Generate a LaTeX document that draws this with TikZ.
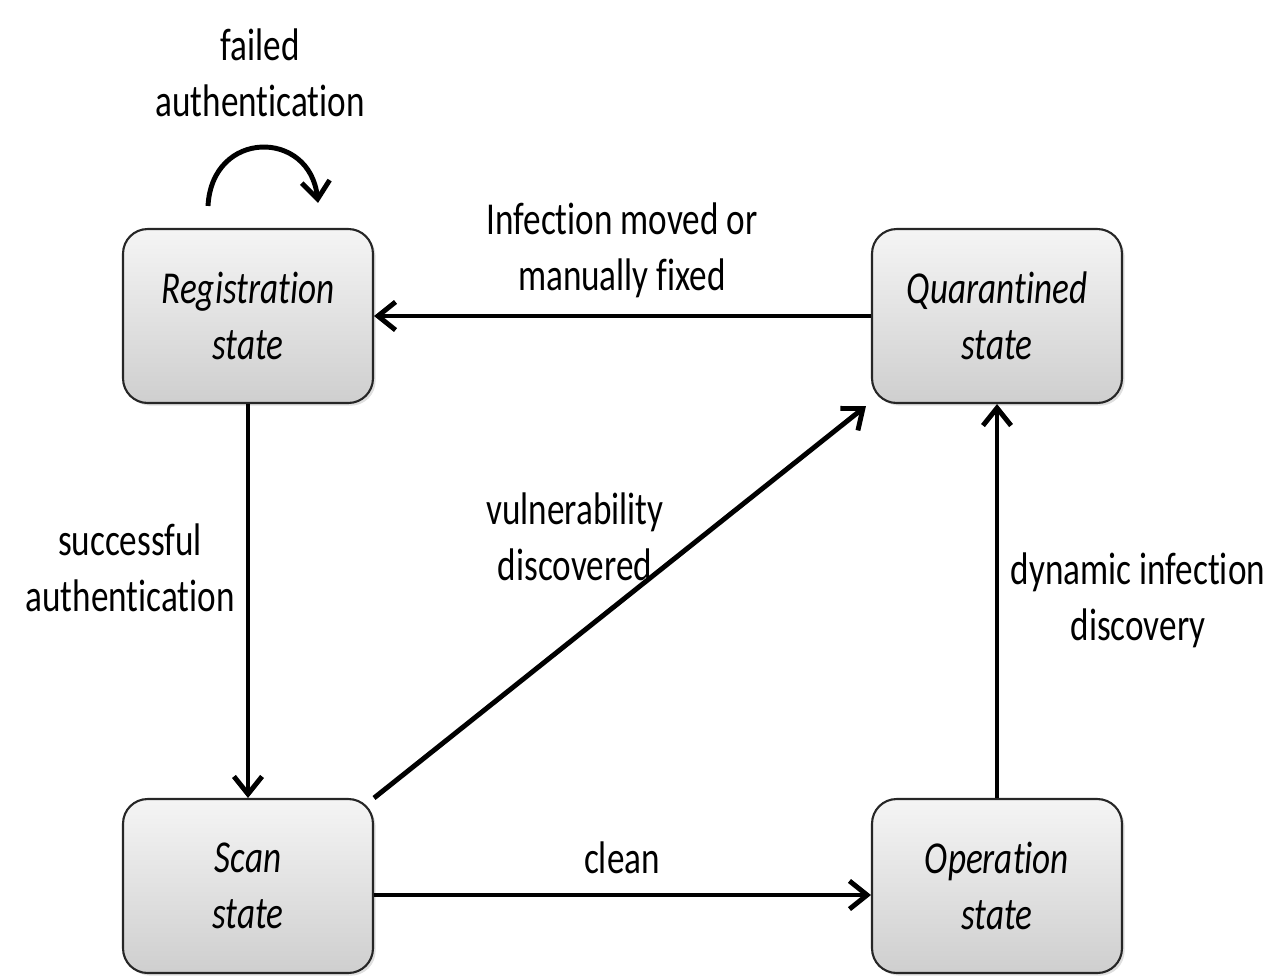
\documentclass[tikz,border=0pt]{standalone}
\usepackage{fontspec}
\setmainfont{Carlito}[FakeStretch=0.77, Ligatures=NoCommon]
\usetikzlibrary{arrows.meta,shadows,positioning}

\begin{document}
\begin{tikzpicture}[
            x=0.02cm, y=-0.02cm,
            every node/.style={font=\fontsize{26}{32}\selectfont, align=center},
            statebox/.style={draw=black!85, line width=1.2pt, rounded corners=14pt,
              minimum width=5cm, minimum height=3.48cm,
              top color=gray!8, bottom color=gray!38,
              drop shadow={opacity=0.25, shadow xshift=1.5pt, shadow yshift=-1.5pt},
              font=\fontsize{26}{32}\selectfont\itshape},
            trans/.style={line width=2.8pt, -{Straight Barb[length=10pt, width=16pt, line width=2.8pt]}}
          ]
          \useasboundingbox (0,0) rectangle (1271,975);

          % States
          \node[statebox] (reg) at (248,316) {Registration\\state};
          \node[statebox] (quar) at (997,316) {Quarantined\\state};
          \node[statebox] (scan) at (248,886) {Scan\\state};
          \node[statebox] (oper) at (997,886) {Operation\\state};

          % Self loop on registration
          \coordinate (loopstart) at ([xshift=-0.8cm, yshift=0.44cm]reg.north);
          \coordinate (loopend) at ([xshift=1.4cm, yshift=0.5cm]reg.north);
          \draw[trans] (loopstart) .. controls +(0.08cm,1.54cm) and +(-0.16cm,1.48cm) .. (loopend);
          \node (lfail) at (260,73) {failed\\authentication};

          % Transitions
          \draw[trans] (reg.south) -- (scan.north);
          \node (lsucc) at (130,568) {successful\\authentication};

          \draw[trans] (quar.west) -- (reg.east);
          \node (lfix) at (622,250) {Infection moved or\\manually fixed};

          \draw[trans] (scan.north east) -- ([xshift=-0.1cm, yshift=-0.04cm]quar.south west);
          \node (lvuln) at (575,537) {vulnerability\\discovered};

          \draw[trans] ([yshift=-0.18cm]scan.east) -- ([yshift=-0.18cm]oper.west);
          \node (lclean) at (622,858) {clean};

          \draw[trans] (oper.north) -- (quar.south);
          \node (ldyn) at (1138,600) {dynamic infection\\discovery};

        \end{tikzpicture}
\end{document}
